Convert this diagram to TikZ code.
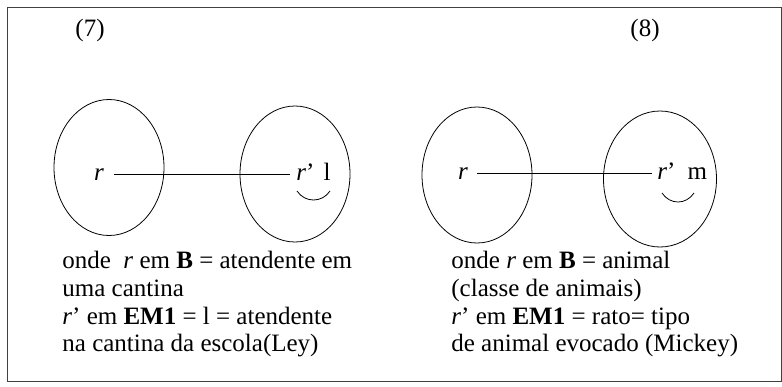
\documentclass[tikz,border=0pt]{standalone}
\usepackage{fontspec}
\setmainfont{Liberation Serif}
\usetikzlibrary{shapes.geometric,positioning,calc}

\begin{document}
\begin{tikzpicture}[x=1pt, y=1pt, line width=0.8pt,
    mspace/.style={draw, ellipse, minimum width=110pt, minimum height=136pt, inner sep=0pt},
    elem/.style={inner sep=0pt, anchor=base, font=\fontsize{25}{27.7}\selectfont},
    caption/.style={inner sep=0pt, anchor=north west, align=left, font=\fontsize{25}{27.7}\selectfont},
    link/.style={line width=0.6pt}]
    \useasboundingbox (0,0) rectangle (782,-386);
    \draw[line width=0.6pt, black!75] (7,-7) rectangle (781,-381);

    % (7)
    \node[elem] (num7) at (90,-36) {(7)};
    \node[mspace] (B7) at (109,-167.5) {};
    \node[mspace] (EM7) at (295,-174) {};
    \node[elem] (r7) at (99,-180) {\textit{r}};
    \node[elem, anchor=base west] (rp7) at (296,-180) {\textit{r}’\hspace{9pt}l};
    \draw[link, shorten <=10pt, shorten >=6pt] (r7.east) -- (r7.east -| rp7.west);
    \draw (297,-191) .. controls (305,-203) and (322,-203) .. (330,-191);
    \node[caption] (txt7) at (62,-251) {onde\ \ \textit{r} em \textbf{B} = atendente em\\uma cantina\\\textit{r}’ em \textbf{EM1} = l = atendente\\na cantina da escola(Ley)};

    % (8)
    \node[elem] (num8) at (645,-36) {(8)};
    \node[mspace] (B8) at (477,-175) {};
    \node[mspace, minimum width=113pt] (EM8) at (660,-179) {};
    \node[elem] (r8) at (463,-179) {\textit{r}};
    \node[elem, anchor=base west] (rp8) at (657,-179) {\textit{r}’\hspace{12pt}m};
    \draw[link, shorten <=9pt, shorten >=5pt] (r8.east) -- (r8.east -| rp8.west);
    \draw (662,-193) .. controls (670,-205) and (686,-205) .. (694,-193);
    \node[caption] (txt8) at (451,-251) {onde \textit{r} em \textbf{B} = animal\\(classe de animais)\\\textit{r}’ em \textbf{EM1} = rato= tipo\\de animal evocado (Mickey)};
\end{tikzpicture}
\end{document}
